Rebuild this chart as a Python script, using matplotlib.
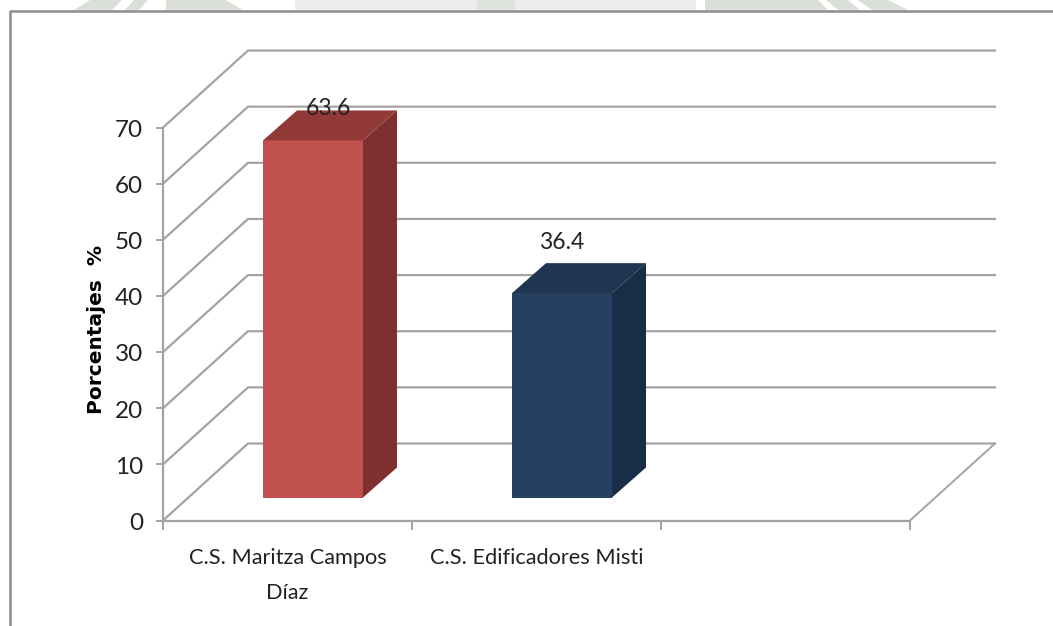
"""Porcentajes por centro de salud, pseudo-3D column chart."""

import matplotlib
matplotlib.use("Agg")
import matplotlib.pyplot as plt
from matplotlib.patches import Polygon

plt.rcParams.update({
    "font.family": ["Lato", "DejaVu Sans"],
    "figure.dpi": 100,
})

categories = ["C.S. Maritza Campos\nDíaz", "C.S. Edificadores Misti"]
values = [63.6, 36.4]
value_labels = ["63.6", "36.4"]
y_ticks = [0, 10, 20, 30, 40, 50, 60, 70]
n_slots = 3

GRID = "#a3a3a3"
FRAME = "#8c8c8c"
TEXT = "#222222"
FRONT = ["#c0504d", "#254061"]
TOP = ["#923a38", "#1f3552"]
SIDE = ["#7e302e", "#1a2d46"]

# the scrap of page watermark above the frame: x at y=0, x at y=10, colour
WM_DARK, WM_PALE = "#dadfd8", "#ebeeeb"
watermark = [
    ((90, 122), (74, 112), WM_DARK),
    ((134, 148), (125, 139), WM_DARK),
    ((166, 226), (166, 243), WM_DARK),
    ((295, 477), (295, 477), WM_PALE),
    ((477, 515), (477, 515), "#e0e4de"),
    ((515, 696), (515, 696), WM_PALE),
    ((705, 818), (705, 828), WM_DARK),
    ((826, 848), (838, 860), WM_DARK),
    ((858, 888), (872, 908), WM_DARK),
]

W, H = 1053, 626
X0, SLOT = 163.0, 249.0      # front edge of the floor, pixels
Y0, UNIT = 520.5, 5.614      # value 0 and pixels per unit
DEPTH_X, DEPTH_Y = 85.0 / SLOT, 77.0 / UNIT   # full depth of the box


def main():
    fig = plt.figure(figsize=(W / 100, H / 100), facecolor="white")
    ax = fig.add_axes([0, 0, 1, 1])
    ax.set_xlim(-X0 / SLOT, (W - X0) / SLOT)
    ax.set_ylim((Y0 - H) / UNIT, Y0 / UNIT)
    ax.axis("off")

    px = 1 / SLOT
    pu = 1 / UNIT

    for (x_a, x_b), (x_c, x_d), col in watermark:
        ax.add_patch(Polygon([((x_a - X0) * px, Y0 * pu), ((x_b - X0) * px, Y0 * pu),
                              ((x_d - X0) * px, (Y0 - 10) * pu), ((x_c - X0) * px, (Y0 - 10) * pu)],
                             facecolor=col, edgecolor="none", zorder=0))

    # outer chart frame, open at the right and the bottom
    ax.plot([(9.5 - X0) * px, (9.5 - X0) * px, (W - X0) * px],
            [(Y0 - H) * pu, (Y0 - 11) * pu, (Y0 - 11) * pu], color=FRAME, lw=1.8)

    # grid lines on the wall and the side wall
    for t in y_ticks:
        ax.plot([0, DEPTH_X, n_slots + DEPTH_X],
                [t, t + DEPTH_Y, t + DEPTH_Y], color=GRID, lw=1.6, zorder=1)
    ax.plot([n_slots, n_slots + DEPTH_X], [0, DEPTH_Y], color=GRID, lw=1.4, zorder=1)

    # axes and ticks
    ax.plot([0, 0], [0, y_ticks[-1]], color=GRID, lw=1.6, zorder=1)
    ax.plot([0, n_slots], [0, 0], color=GRID, lw=1.6, zorder=1)
    for t in y_ticks:
        ax.plot([-6 * px, 0], [t, t], color=GRID, lw=1.4)
        ax.text(-20 * px, t - 0.5, str(t), ha="right", va="center", fontsize=17.5, color=TEXT)
    for i in range(n_slots + 1):
        ax.plot([i, i], [0, -8 * pu], color=GRID, lw=1.4)

    # columns, sitting partway into the depth of the box
    bar_w = 100 / SLOT
    base = 23 / UNIT
    dep_x, dep_y = 34 / SLOT, 30 / UNIT
    label_dx = [65, 50]    # pixels from the left edge of the column
    label_dy = [2, 21]     # pixels above the back of the column top
    for i, v in enumerate(values):
        left = i + 100 / SLOT
        right = left + bar_w
        top = base + v
        ax.add_patch(Polygon([(left, base), (right, base), (right, top), (left, top)],
                             facecolor=FRONT[i], edgecolor="none", zorder=3))
        ax.add_patch(Polygon([(left, top), (right, top), (right + dep_x, top + dep_y), (left + dep_x, top + dep_y)],
                             facecolor=TOP[i], edgecolor="none", zorder=3))
        ax.add_patch(Polygon([(right, base), (right + dep_x, base + dep_y), (right + dep_x, top + dep_y), (right, top)],
                             facecolor=SIDE[i], edgecolor="none", zorder=3))
        ax.text(left + label_dx[i] * px, top + dep_y + label_dy[i] * pu, value_labels[i],
                ha="center", va="center", fontsize=16.5, color=TEXT, zorder=4)

    for i, c in enumerate(categories):
        ax.text(i + 0.5, -27 * pu, c, ha="center", va="top", fontsize=15.7,
                color=TEXT, linespacing=1.95)

    ax.text(-67 * px, 34.1, "Porcentajes  %", rotation=90, ha="center", va="center",
            fontsize=14.5, fontweight="bold", family="DejaVu Sans", color="black")

    fig.savefig("out.png", dpi=100)


if __name__ == "__main__":
    main()
